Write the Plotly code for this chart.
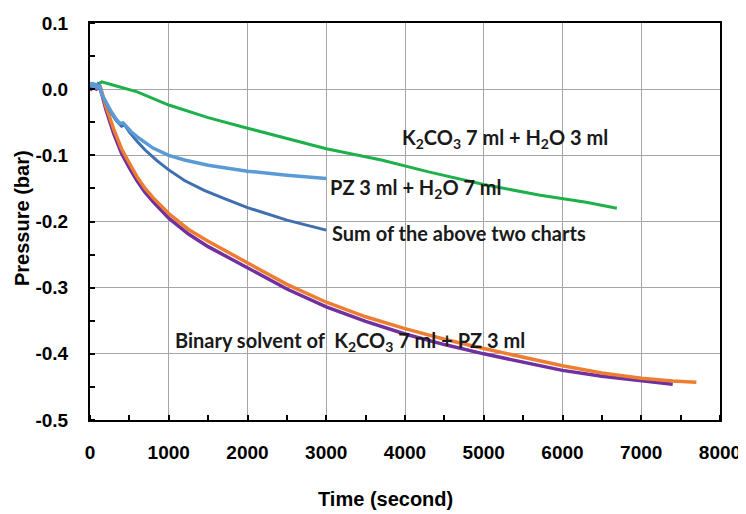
import plotly.graph_objects as go

# ---- data ----
t_green = [110, 150, 300, 600, 1000, 1500, 2000, 2500, 3000, 3700, 4300, 5000, 5700, 6300, 6690]
p_green = [0.008, 0.011, 0.006, -0.004, -0.024, -0.043, -0.059, -0.075, -0.090, -0.107, -0.125, -0.144, -0.160, -0.171, -0.180]

t_pz = [0, 25, 50, 75, 100, 125, 150, 200, 260, 330, 380, 420, 450, 480, 520, 600, 700, 800, 1000, 1200, 1500, 2000, 2500, 3000]
p_pz = [0.004, 0.010, 0.002, 0.008, 0.003, 0.006, -0.008, -0.020, -0.032, -0.045, -0.052, -0.051, -0.055, -0.059, -0.064, -0.072, -0.081, -0.089, -0.100, -0.107, -0.115, -0.124, -0.130, -0.135]

t_sum = [0, 25, 50, 75, 100, 125, 150, 200, 260, 330, 400, 440, 470, 500, 600, 700, 850, 1000, 1200, 1450, 1700, 2000, 2500, 3000]
p_sum = [0.006, 0.002, 0.009, 0.004, 0.008, 0.003, -0.008, -0.021, -0.034, -0.047, -0.056, -0.054, -0.059, -0.065, -0.079, -0.092, -0.108, -0.122, -0.138, -0.153, -0.165, -0.179, -0.198, -0.213]

t_orange = [0, 40, 80, 120, 140, 200, 300, 400, 500, 600, 700, 800, 1000, 1250, 1500, 2000, 2500, 3000, 3500, 4000, 4500, 5000, 5500, 6000, 6500, 7000, 7400, 7700]
p_orange = [0.000, 0.006, 0.002, 0.005, 0.000, -0.025, -0.060, -0.090, -0.112, -0.133, -0.150, -0.164, -0.188, -0.212, -0.230, -0.262, -0.295, -0.322, -0.344, -0.362, -0.378, -0.392, -0.405, -0.418, -0.429, -0.437, -0.441, -0.443]

t_purple = [0, 40, 80, 120, 140, 200, 300, 400, 500, 600, 700, 800, 1000, 1250, 1500, 2000, 2500, 3000, 3500, 4000, 4500, 5000, 5500, 6000, 6500, 7000, 7400]
p_purple = [-0.002, 0.004, 0.000, 0.003, -0.003, -0.030, -0.067, -0.097, -0.119, -0.139, -0.156, -0.170, -0.195, -0.219, -0.238, -0.270, -0.302, -0.329, -0.351, -0.370, -0.386, -0.400, -0.413, -0.425, -0.434, -0.441, -0.446]

x_ticks = [0, 1000, 2000, 3000, 4000, 5000, 6000, 7000, 8000]
y_ticks = [0.1, 0.0, -0.1, -0.2, -0.3, -0.4, -0.5]
y_tick_labels = ["0.1", "0.0", "-0.1", "-0.2", "-0.3", "-0.4", "-0.5"]

labels = [
    ("K<sub>2</sub>CO<sub>3</sub> 7 ml + H<sub>2</sub>O 3 ml", 3937, -0.074),
    ("PZ 3 ml + H<sub>2</sub>O 7 ml", 3022, -0.150),
    ("Sum of the above two charts", 3048, -0.218),
    ("Binary solvent of\u00a0 K<sub>2</sub>CO<sub>3</sub> 7 ml + PZ 3 ml", 1054, -0.382),
]

fig = go.Figure()
fig.add_trace(go.Scatter(x=t_green, y=p_green, mode="lines", line=dict(color="#1DB04B", width=3)))
fig.add_trace(go.Scatter(x=t_purple, y=p_purple, mode="lines", line=dict(color="#7030A0", width=3.5)))
fig.add_trace(go.Scatter(x=t_orange, y=p_orange, mode="lines", line=dict(color="#ED7D31", width=3.5)))
fig.add_trace(go.Scatter(x=t_sum, y=p_sum, mode="lines", line=dict(color="#3F6FAF", width=3)))
fig.add_trace(go.Scatter(x=t_pz, y=p_pz, mode="lines", line=dict(color="#5B9BD5", width=3.5)))

for txt, x, y in labels:
    fig.add_annotation(x=x, y=y, text=txt, showarrow=False, xanchor="left", yanchor="middle",
                       font=dict(family="Lato", size=20, color="#1a1a1a", weight="bold"))

axis_font = dict(family="Liberation Sans", size=19, color="black", weight="bold")

# page body has an 8px margin; figure sized so the plot area sits where the reference's does
W, H = 738, 506
L, T, PW, PH = 82, 15, 630, 397
fig.update_layout(
    width=W, height=H,
    margin=dict(l=L, r=W - L - PW, t=T, b=H - T - PH),
    paper_bgcolor="white", plot_bgcolor="white",
    showlegend=False,
    xaxis=dict(range=[0, 8000], tickvals=x_ticks, ticks="", showgrid=True, gridcolor="#A6A6A6", gridwidth=1,
               showline=True, linecolor="black", linewidth=2, mirror=True, zeroline=False, automargin=False,
               tickfont=axis_font, ticklabelstandoff=14,
               minor=dict(dtick=500, ticks="inside", ticklen=5, tickcolor="black", tickwidth=1.5, showgrid=False)),
    yaxis=dict(range=[-0.5, 0.1], tickvals=y_ticks, ticktext=y_tick_labels, ticks="", showgrid=True,
               gridcolor="#A6A6A6", gridwidth=1, automargin=False,
               showline=True, linecolor="black", linewidth=2, mirror=True, zeroline=False,
               tickfont=axis_font, ticklabelstandoff=16,
               minor=dict(dtick=0.05, ticks="inside", ticklen=5, tickcolor="black", tickwidth=1.5, showgrid=False)),
)

title_font = dict(family="Liberation Sans", size=20, color="black", weight="bold")
fig.add_annotation(x=(385 - 90) / PW, y=-(499 - 420) / PH, xref="paper", yref="paper", text="Time (second)",
                   showarrow=False, xanchor="center", yanchor="middle", font=title_font)
fig.add_annotation(x=-(90 - 22) / PW, y=(420 - 218) / PH, xref="paper", yref="paper", text="Pressure (bar)",
                   showarrow=False, textangle=-90, xanchor="center", yanchor="middle", font=title_font)

fig.write_html("out.html")
